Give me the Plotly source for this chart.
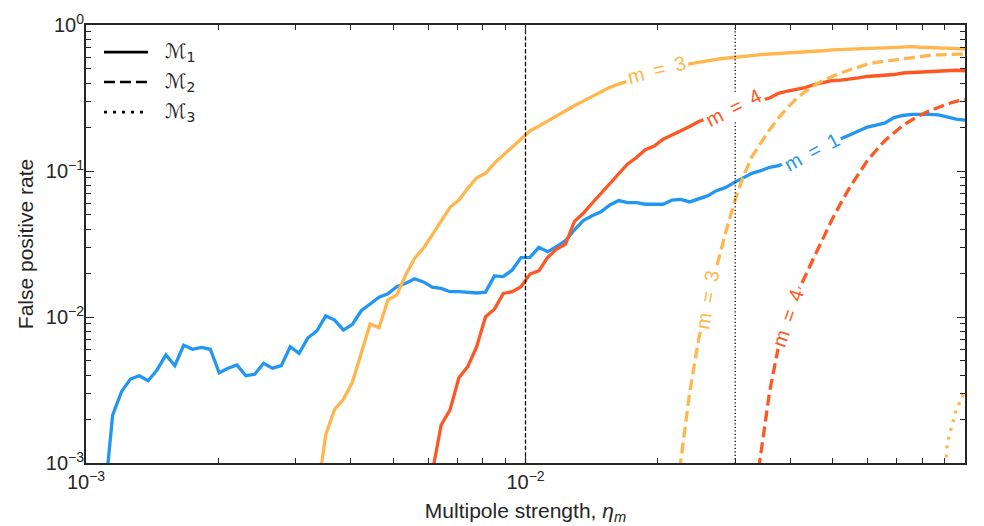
import numpy as np
import plotly.graph_objects as go

# sampling grid of multipole strength (100 log-spaced values, 1e-3 .. 1e-1)
ETA = np.logspace(-3, -1, 100)

# False positive rates (start index into ETA, values)
M1_M1_START = 2
M1_M1 = [5.0e-4, 2.13e-3, 3.08e-3, 3.76e-3, 3.96e-3, 3.66e-3, 4.34e-3, 5.50e-3, 4.64e-3, 6.40e-3,
         6.01e-3, 6.19e-3, 6.01e-3, 4.15e-3, 4.46e-3, 4.69e-3, 3.96e-3, 4.05e-3, 4.82e-3, 4.46e-3,
         4.64e-3, 6.26e-3, 5.64e-3, 7.21e-3, 8.02e-3, 1.016e-2,
         9.53e-3, 8.14e-3, 8.91e-3, 1.104e-2, 1.227e-2, 1.365e-2, 1.44e-2, 1.61e-2, 1.70e-2, 1.83e-2,
         1.74e-2, 1.60e-2, 1.57e-2, 1.49e-2, 1.49e-2, 1.47e-2, 1.46e-2, 1.48e-2, 1.91e-2, 1.89e-2,
         2.10e-2, 2.55e-2, 2.56e-2, 3.00e-2, 2.80e-2, 3.03e-2, 3.33e-2, 3.94e-2, 4.57e-2, 4.94e-2, 5.26e-2,
         5.85e-2, 6.27e-2, 6.07e-2, 6.07e-2, 5.92e-2, 5.92e-2, 5.92e-2, 6.32e-2, 6.40e-2, 6.14e-2,
         6.40e-2, 6.75e-2, 7.33e-2, 7.69e-2, 8.32e-2, 8.91e-2, 9.64e-2, 0.1005, 0.106,
         0.1087, 0.1153, 0.1227, 0.1297, 0.138, 0.146, 0.1556, 0.1656, 0.1766, 0.188, 0.200,
         0.2065, 0.2133, 0.232, 0.240, 0.2443, 0.2455, 0.2443, 0.242, 0.2344, 0.227, 0.2233]

M3_M1_START = 26
M3_M1 = [5.8e-4, 1.556e-3, 2.33e-3, 2.73e-3, 3.57e-3, 5.64e-3, 8.95e-3, 8.45e-3, 1.305e-2, 1.416e-2,
         1.94e-2, 2.52e-2, 2.96e-2, 3.65e-2, 4.50e-2, 5.64e-2, 6.32e-2, 7.62e-2, 8.99e-2, 9.64e-2,
         0.113, 0.1288, 0.1466, 0.1675, 0.188, 0.203, 0.220, 0.242, 0.259, 0.280, 0.301, 0.323,
         0.349, 0.374, 0.394, 0.413, 0.434, 0.451, 0.469, 0.488, 0.507, 0.524, 0.541, 0.556,
         0.566, 0.581, 0.592, 0.598, 0.608, 0.618, 0.627, 0.632, 0.638, 0.643, 0.647, 0.650,
         0.658, 0.666, 0.675, 0.677, 0.679, 0.683, 0.689, 0.694, 0.698, 0.704, 0.706, 0.710,
         0.704, 0.700, 0.695, 0.690, 0.689, 0.686]

M4_M1_START = 39
M4_M1 = [8.6e-4, 1.82e-3, 2.31e-3, 3.84e-3, 4.57e-3, 6.26e-3, 1.005e-2, 1.13e-2, 1.45e-2, 1.49e-2,
         1.61e-2, 1.97e-2, 2.07e-2, 2.56e-2, 2.92e-2, 3.15e-2, 4.50e-2, 5.13e-2, 6.01e-2, 7.03e-2,
         8.24e-2, 9.73e-2, 0.1117, 0.1236, 0.140, 0.148, 0.165, 0.1766, 0.188, 0.2018, 0.2183,
         0.229, 0.240, 0.252, 0.264, 0.279, 0.290, 0.304, 0.316, 0.340, 0.353, 0.361, 0.373,
         0.391, 0.404, 0.415, 0.419, 0.424, 0.434, 0.444, 0.447, 0.453, 0.458, 0.469, 0.473,
         0.477, 0.480, 0.486, 0.492, 0.490, 0.486]

M3_M2_START = 66
M3_M2 = [2.0e-4, 1.05e-3, 3.06e-3, 7.06e-3, 1.29e-2, 2.21e-2, 3.70e-2, 6.05e-2, 9.10e-2, 0.1256,
         0.1567, 0.192, 0.2306, 0.2716, 0.3126, 0.350, 0.384, 0.417, 0.443, 0.471, 0.494, 0.515,
         0.540, 0.555, 0.566, 0.578, 0.590, 0.600, 0.609, 0.619, 0.625, 0.628, 0.632, 0.632]

M4_M2_START = 75
M4_M2 = [4.3e-4, 1.19e-3, 3.10e-3, 6.3e-3, 1.0e-2, 1.41e-2, 1.93e-2, 2.57e-2, 3.44e-2, 4.62e-2,
         6.00e-2, 7.69e-2, 9.53e-2, 0.1177, 0.1387, 0.162, 0.1824, 0.205, 0.2234, 0.242, 0.258,
         0.274, 0.288, 0.300, 0.310]

M3_M3_START = 96
M3_M3 = [2.0e-4, 1.36e-3, 2.31e-3, 3.11e-3]

VLINES = [0.01, 0.03]
VLINE_DASH = ["4.4px,2px", "1.3px,2.2px"]

BLUE, ORANGE, RED = "#2196F3", "#FFB74D", "#FF5722"

MODEL_NAMES = ["ℳ<sub>1</sub>", "ℳ<sub>2</sub>", "ℳ<sub>3</sub>"]
MODEL_DASH = ["solid", "11px,5px", "3px,6px"]

# inline curve labels: (text, x, y, angle, colour)
LABELS = [
    ("m = 3", 0.01982, 0.492, -15, ORANGE),
    ("m = 4", 0.0297, 0.269, -27, RED),
    ("m = 1", 0.0448, 0.1355, -28, BLUE),
    ("m = 3", 0.02594, 0.01305, -80, ORANGE),
    ("m = 4", 0.03953, 0.00984, -71, RED),
]

FONT = "Liberation Sans, Arial, sans-serif"
INK = "#262626"

fig = go.Figure()

series = [
    (M1_M1_START, M1_M1, BLUE, 0),
    (M3_M1_START, M3_M1, ORANGE, 0),
    (M4_M1_START, M4_M1, RED, 0),
    (M3_M2_START, M3_M2, ORANGE, 1),
    (M4_M2_START, M4_M2, RED, 1),
    (M3_M3_START, M3_M3, ORANGE, 2),
]
for start, vals, col, mi in series:
    fig.add_trace(go.Scatter(x=ETA[start:start + len(vals)], y=vals, mode="lines",
                             line=dict(color=col, width=3.3, dash=MODEL_DASH[mi]),
                             showlegend=False, hoverinfo="skip"))

for xv, dsh in zip(VLINES, VLINE_DASH):
    fig.add_trace(go.Scatter(x=[xv, xv], y=[1e-3, 1.0], mode="lines",
                             line=dict(color="black", width=1.3, dash=dsh),
                             showlegend=False, hoverinfo="skip"))

for txt, lx, ly, ang, col in LABELS:
    fig.add_annotation(x=np.log10(lx), y=np.log10(ly), xref="x", yref="y",
                       text=txt.replace(" ", "\u2002"), showarrow=False, textangle=ang,
                       font=dict(family=FONT, size=20, color=col),
                       bgcolor="white", borderpad=2, xanchor="center", yanchor="middle")

# legend (top-left, inside the axes): line sample + model name per row
LEG_ROWS = [0.938, 0.870, 0.801]
for name, dsh, ry in zip(MODEL_NAMES, MODEL_DASH, LEG_ROWS):
    fig.add_shape(type="line", xref="paper", yref="paper", x0=0.0205, x1=0.0705, y0=ry, y1=ry,
                  line=dict(color="black", width=2.6, dash=dsh))
    fig.add_annotation(xref="paper", yref="paper", x=0.0876, y=ry, text=name, showarrow=False,
                       xanchor="left", yanchor="middle",
                       font=dict(family="DejaVu Sans", size=20, color=INK))

axis_common = dict(type="log", showline=True, linewidth=2, linecolor=INK,
                   mirror="ticks", ticks="inside", ticklen=8, tickwidth=1.3, tickcolor=INK,
                   showgrid=False, zeroline=False,
                   tickfont=dict(family=FONT, size=20, color=INK),
                   minor=dict(ticks="inside", ticklen=5, tickwidth=1.1, tickcolor=INK,
                              dtick="D1", showgrid=False))

fig.update_xaxes(**axis_common, range=[-3, -1],
                 tickvals=[1e-3, 1e-2, 1e-1],
                 ticktext=["10<sup>−3</sup>", "10<sup>−2</sup>", "10<sup>−1</sup>"],
                 title=dict(text="Multipole strength, <i>η</i><sub><i>m</i></sub>",
                            font=dict(family=FONT, size=21, color=INK),
                            standoff=11))
fig.update_yaxes(**axis_common, range=[-3, 0],
                 tickvals=[1e-3, 1e-2, 1e-1, 1],
                 ticktext=["10<sup>−3</sup>", "10<sup>−2</sup>", "10<sup>−1</sup>", "10<sup>0</sup>"],
                 ticklabelstandoff=-4,
                 title=dict(text="False positive rate",
                            font=dict(family=FONT, size=21, color=INK),
                            standoff=6))

fig.update_layout(
    width=984, height=526,
    margin=dict(l=86, r=19, t=25, b=63, autoexpand=False),
    plot_bgcolor="white", paper_bgcolor="white",
    showlegend=False,
)

fig.write_html("out.html", config={"displayModeBar": False},
               post_script="document.body.style.margin='0px';")
